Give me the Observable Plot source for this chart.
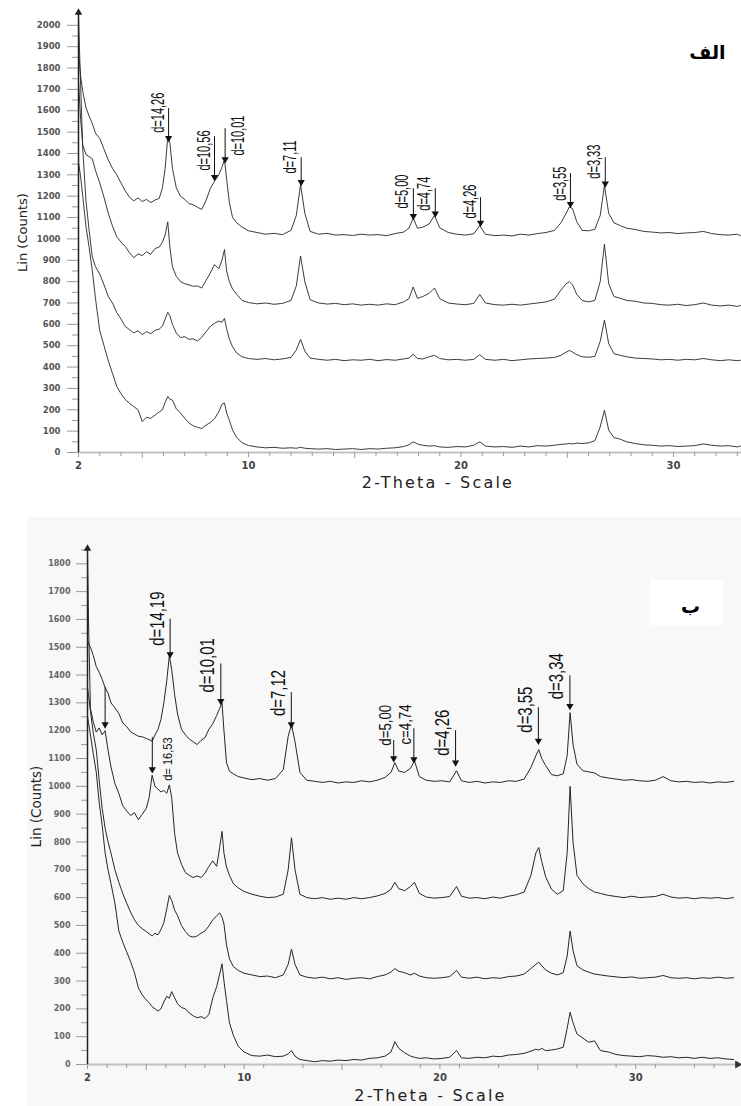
<!DOCTYPE html>
<html><head><meta charset="utf-8">
<script src="https://cdn.jsdelivr.net/npm/d3@7"></script>
<script src="https://cdn.jsdelivr.net/npm/@observablehq/plot@0.6"></script>
<style>
body{margin:0;background:#fff;width:741px;}
#top,#bot{position:relative;width:741px;overflow:hidden;}
#top{height:505px}
#bot{height:601px}
#bot .bg{position:absolute;left:27px;top:12px;right:0;bottom:0;background:#f8f8f8}
#bot .box{position:absolute;left:650px;top:75px;width:73px;height:45px;background:#fff}
svg{position:relative;display:block}
</style></head><body>
<div id="top"></div><div id="bot"><div class="bg"></div><div class="box"></div></div>
<script>
// ---------- Panel A (الف) ----------
const thetaA = [2.0,2.1,2.2,2.35,2.5,2.65,2.8,3.0,3.2,3.4,3.6,3.8,4.0,4.2,4.4,4.6,4.8,5.0,5.2,5.4,5.6,5.8,5.95,6.08,6.2,6.3,6.42,6.6,6.8,7.0,7.2,7.4,7.6,7.8,8.0,8.2,8.4,8.6,8.75,8.87,8.97,9.1,9.25,9.45,9.7,10.0,10.4,10.8,11.2,11.6,12.0,12.25,12.45,12.65,12.9,13.3,13.7,14.1,14.5,14.9,15.3,15.7,16.1,16.5,16.9,17.3,17.55,17.75,17.95,18.2,18.5,18.75,19.0,19.4,19.8,20.2,20.6,20.88,21.15,21.6,22.0,22.4,22.8,23.2,23.6,24.0,24.4,24.7,24.95,25.1,25.25,25.45,25.7,26.0,26.3,26.55,26.75,26.95,27.2,27.5,27.8,28.2,28.6,29.0,29.4,29.8,30.2,30.6,31.0,31.4,31.8,32.2,32.6,33.0,33.15];
const countsA1 = [1880,1760,1690,1615,1575,1540,1495,1470,1420,1370,1330,1300,1262,1225,1195,1178,1192,1175,1185,1170,1182,1190,1240,1330,1480,1450,1330,1240,1200,1185,1165,1160,1148,1138,1180,1235,1270,1300,1335,1370,1280,1170,1100,1075,1055,1038,1030,1022,1026,1020,1040,1110,1255,1120,1035,1022,1026,1018,1020,1016,1022,1018,1020,1015,1025,1032,1050,1098,1050,1055,1070,1110,1052,1030,1022,1018,1024,1062,1022,1015,1018,1014,1022,1018,1025,1030,1040,1075,1120,1150,1142,1080,1040,1038,1045,1110,1250,1120,1075,1062,1050,1044,1035,1032,1028,1030,1025,1028,1030,1035,1025,1020,1018,1022,1015];
const countsA2 = [1740,1560,1440,1395,1385,1375,1320,1262,1195,1120,1060,1010,985,965,935,912,930,922,940,928,955,962,985,1020,1080,960,870,825,800,790,785,778,780,770,805,840,880,860,900,950,850,800,765,740,712,702,696,700,694,698,712,780,920,800,715,700,695,698,692,696,690,694,690,696,692,705,720,775,722,730,745,770,720,700,695,692,698,740,700,692,690,694,690,695,700,705,718,760,790,800,785,740,712,705,712,800,975,790,730,722,712,708,700,698,692,690,694,688,692,700,690,686,690,684,688];
const countsA3 = [2040,1720,1420,1180,1040,915,870,835,785,730,700,655,625,590,575,560,570,552,566,556,572,578,592,625,656,640,600,560,538,542,530,532,522,540,565,590,605,615,610,628,580,530,495,465,448,440,436,440,434,438,445,480,530,475,442,436,432,436,430,434,432,436,430,435,432,438,442,460,440,438,448,455,440,434,436,432,436,458,436,432,436,430,434,438,440,442,445,455,470,478,470,458,448,446,450,520,620,510,462,455,448,442,440,438,434,436,432,436,434,440,434,430,434,430,432];
const countsA4 = [1360,1290,1200,1060,960,850,720,570,500,430,370,310,275,248,230,215,200,145,165,160,175,190,200,235,262,250,245,205,185,160,138,125,118,112,128,140,158,190,225,232,185,150,105,70,45,33,26,22,24,20,22,20,24,20,18,16,18,14,16,18,14,18,16,20,22,28,36,50,40,34,30,32,26,24,28,26,34,50,30,26,28,24,30,26,32,30,34,38,40,42,40,44,42,45,55,120,198,105,70,62,50,42,36,34,30,32,28,30,32,40,34,30,32,26,30];
const peakThetaA = [6.24,8.40,8.90,12.48,17.76,18.79,20.92,25.15,26.79];
const peakLabelA = ["d=14,26","d=10,56","d=10,01","d=7,11","d=5,00","d=4,74","d=4,26","d=3,55","d=3,33"];
const peakTopA   = [1610,1479,1516,1380,1235,1235,1193,1306,1380];
const peakTipA   = [1465,1282,1366,1259,1100,1112,1068,1156,1252];
const peakBaseA  = [1497,1320,1390,1306,1142,1132,1095,1179,1282];

// ---------- Panel B (ب) ----------
const thetaB = [2.0,2.05,2.15,2.3,2.45,2.6,2.75,2.9,3.05,3.2,3.4,3.6,3.8,4.0,4.2,4.4,4.6,4.8,5.0,5.15,5.3,5.45,5.6,5.75,5.9,6.05,6.18,6.3,6.45,6.6,6.8,7.0,7.2,7.4,7.6,7.8,8.0,8.2,8.4,8.6,8.75,8.87,8.97,9.1,9.25,9.45,9.7,10.0,10.4,10.8,11.2,11.6,12.0,12.25,12.42,12.6,12.85,13.2,13.6,14.0,14.4,14.8,15.2,15.6,16.0,16.4,16.8,17.2,17.5,17.7,17.9,18.2,18.5,18.7,18.95,19.3,19.7,20.1,20.5,20.85,21.1,21.5,21.9,22.3,22.7,23.1,23.5,23.9,24.3,24.65,24.9,25.05,25.2,25.4,25.7,26.0,26.3,26.5,26.65,26.8,27.0,27.3,27.6,27.9,28.2,28.6,29.0,29.4,29.8,30.2,30.6,31.0,31.4,31.8,32.2,32.6,33.0,33.4,33.8,34.2,34.6,35.0];
const countsB1 = [1525,1515,1500,1470,1430,1410,1385,1355,1335,1300,1282,1262,1228,1215,1196,1188,1180,1178,1172,1168,1162,1185,1205,1240,1300,1380,1470,1420,1330,1260,1205,1185,1170,1160,1150,1165,1175,1205,1225,1255,1280,1300,1200,1085,1055,1045,1035,1030,1024,1028,1022,1028,1060,1180,1222,1160,1050,1022,1018,1014,1018,1012,1016,1014,1020,1016,1022,1032,1050,1085,1055,1050,1065,1092,1035,1022,1018,1020,1016,1056,1020,1014,1018,1012,1016,1014,1020,1018,1026,1068,1110,1132,1100,1075,1042,1038,1045,1110,1265,1150,1080,1056,1052,1048,1035,1030,1026,1022,1024,1020,1018,1022,1035,1020,1016,1018,1014,1016,1012,1016,1014,1018];
const countsB2 = [1850,1600,1280,1230,1195,1210,1185,1200,1130,1070,1010,975,930,912,895,905,880,900,920,960,1040,1000,990,980,985,975,1005,960,830,760,720,690,680,672,678,672,688,712,732,712,780,838,760,710,680,650,635,622,612,605,600,602,612,700,815,700,612,600,596,600,594,598,594,600,596,600,606,615,630,655,632,625,640,655,615,602,598,600,604,640,605,598,600,596,602,598,605,610,620,680,760,780,730,675,630,612,625,760,1000,800,680,650,632,620,615,608,604,600,605,600,602,604,612,602,598,600,596,600,598,600,596,600];
const countsB3 = [1355,1330,1270,1190,1130,1020,920,850,800,760,700,655,615,580,548,520,500,488,478,470,462,472,466,485,510,560,608,590,555,535,500,478,462,458,462,472,480,498,520,535,545,530,505,430,380,352,338,328,322,316,318,312,322,360,415,360,322,314,310,314,308,312,306,310,312,308,316,322,332,345,335,330,322,328,318,312,310,312,316,338,314,310,314,308,312,310,316,318,325,345,360,368,355,340,328,322,330,390,480,410,355,340,332,325,322,318,315,312,315,310,312,314,320,312,310,312,308,312,310,314,310,312];
const countsB4 = [1250,1230,1185,1115,1050,940,860,760,700,650,580,480,440,405,370,330,275,250,232,222,208,200,192,200,225,245,238,262,240,218,205,200,185,175,168,172,165,180,240,280,325,362,300,230,150,105,65,45,32,30,34,28,30,38,50,30,18,14,10,14,12,16,14,18,16,22,24,30,45,82,58,42,30,26,22,24,20,22,26,50,24,22,26,24,30,28,34,36,40,48,55,52,58,50,52,56,62,130,188,150,110,95,80,85,50,45,36,32,30,28,32,30,26,28,24,26,22,26,22,24,20,18];
const peakThetaB = [6.22,8.81,12.41,17.64,18.67,20.80,25.03,26.64,5.31,2.90];
const peakLabelB = ["d=14,19","d=10,01","d=7,12","d=5,00","c=4,74","d=4,26","d=3,55","d=3,34","d= 16,53",""];
const peakTopB   = [1601,1440,1337,1165,1207,1200,1283,1397,1175,1355];
const peakTipB   = [1469,1301,1217,1095,1092,1080,1158,1283,1056,1217];
const peakBaseB  = [1505,1337,1253,1146,1150,1110,1193,1313,1020,0];

// ---------- shared texts / ticks ----------
const yTitle = "Lin (Counts)";
const xTitle = "2-Theta - Scale";
const tagA = "الف";
const tagB = "ب";
const xTickLabels = [2, 10, 20, 30];
const xMidTicks = [5, 15, 25];
const xMinorA = d3.range(3, 34).filter(v => !xTickLabels.includes(v) && !xMidTicks.includes(v));
const xMinorB = [3,4,6,7,8,9,11,13,17,19,21,23,27,29,31,33,34];
const yMajorA = d3.range(0, 2001, 100), yMinorA = d3.range(50, 2001, 100);
const yMajorB = d3.range(0, 1801, 100), yMinorB = d3.range(50, 1851, 100);

function panel(cfg) {
  const rows = [];
  cfg.curves.forEach((vals, k) => vals.forEach((v, i) => rows.push({t: cfg.theta[i], v, k})));
  const peaks = cfg.pTheta.map((t, i) => ({t, label: cfg.pLabel[i], top: cfg.pTop[i], tip: cfg.pTip[i], base: cfg.pBase[i]}));
  const textMarks = cfg.groups.map(g => Plot.text(peaks.filter(p => p.label && g.test(p.label)), {
    x: "t", y: "base", text: "label", rotate: -90, textAnchor: "start", lineAnchor: "middle",
    dx: g.dx, fontSize: g.size, fontFamily: "Liberation Sans, Arial, sans-serif", fontWeight: "normal", fill: "#111"
  }));
  const marks = [
    Plot.ruleY([0], {stroke: "#c2c2c2", strokeWidth: 2.2}),
    Plot.axisX({ticks: cfg.xMinor, tickSize: 4, tickFormat: () => "", stroke: "#9a9a9a", label: null}),
    Plot.axisX({ticks: xMidTicks, tickSize: 6, tickFormat: () => "", stroke: "#9a9a9a", label: null}),
    Plot.axisX({ticks: xTickLabels, tickSize: 5, tickPadding: 4, tickFormat: d => String(d), fontSize: cfg.xFont, fontWeight: "bold", fill: "#444", stroke: "#9a9a9a", label: null}),
    Plot.axisY({ticks: cfg.yMinor, tickSize: 6, tickFormat: () => "", stroke: "#9a9a9a", label: null}),
    Plot.axisY({ticks: cfg.yMajor, tickSize: 11, tickPadding: cfg.yPad, tickFormat: d => String(d), fontSize: cfg.yFont, fontWeight: "bold", fill: cfg.yFill, stroke: "#9a9a9a", label: null}),
    Plot.ruleX([cfg.xDomain[0]], {y1: 0, y2: cfg.yDomain[1], stroke: "#222", strokeWidth: 1.5}),
    Plot.dot([{x: cfg.xDomain[0], y: cfg.yDomain[1]}], {x: "x", y: "y", symbol: "triangle", r: 2.8, fill: "#222", stroke: null}),
    Plot.line(rows, {x: "t", y: "v", z: "k", stroke: "#262626", strokeWidth: cfg.sw}),
    Plot.ruleX(peaks, {x: "t", y1: "top", y2: "tip", stroke: "#111", strokeWidth: 1}),
    Plot.dot(peaks, {x: "t", y: "tip", symbol: "triangle", rotate: 180, r: 2.7, fill: "#111", stroke: null, dy: -1.5}),
    ...textMarks,
    Plot.text([cfg.yTitle], {frameAnchor: "left", rotate: -90, dx: cfg.yTitleDx, fontSize: cfg.yTitleSize, fontWeight: "normal", fontFamily: "DejaVu Sans", fill: "#222", lineAnchor: "middle", textAnchor: "middle"}),
    Plot.text([cfg.xTitle], {frameAnchor: "bottom", dx: cfg.xTitleDx, dy: cfg.xTitleDy, fontSize: 16, fontWeight: "normal", fontFamily: "DejaVu Sans", fill: "#222", lineAnchor: "middle", textAnchor: "middle"}),
    Plot.text([cfg.tag], {frameAnchor: "top-right", dx: cfg.tagDx, dy: cfg.tagDy, fontSize: 19, fontWeight: "bold", fontFamily: "DejaVu Sans", fill: "#000", lineAnchor: "middle", textAnchor: "middle"})
  ];
  if (cfg.xArrow) marks.push(Plot.dot([{x: cfg.xDomain[1], y: 0}], {x: "x", y: "y", symbol: "triangle", rotate: 90, r: 3, fill: "#333", stroke: null}));
  return Plot.plot({
    width: 741, height: cfg.height,
    marginLeft: cfg.ml, marginRight: cfg.mr, marginTop: cfg.mt, marginBottom: cfg.mb,
    x: {domain: cfg.xDomain, axis: null},
    y: {domain: cfg.yDomain, axis: null},
    style: {background: "transparent", overflow: "visible", fontFamily: "DejaVu Sans"},
    marks
  });
}

// condense the peak labels (after the svg is in the page so lengths can be measured)
function condense(svg, cfg) {
  d3.select(svg).selectAll("text").each(function () {
    const t = this.textContent;
    if (t === xTitle) { this.setAttribute("letter-spacing", "2.2px"); return; }
    if (!cfg.pLabel.includes(t) || !t) return;
    const g = cfg.groups.find(g => g.test(t));
    const len = this.getComputedTextLength();
    this.setAttribute("textLength", (len * g.sx).toFixed(1));
    this.setAttribute("lengthAdjust", "spacingAndGlyphs");
  });
}

const cfgA = {
  theta: thetaA, curves: [countsA1, countsA2, countsA3, countsA4],
  pTheta: peakThetaA, pLabel: peakLabelA, pTop: peakTopA, pTip: peakTipA, pBase: peakBaseA,
  groups: [
    {test: l => l !== "d=10,01", dx: -11, size: 19, sx: 0.58},
    {test: l => l === "d=10,01", dx: 13, size: 19, sx: 0.58}
  ],
  xDomain: [2, 33.2], yDomain: [0, 2060],
  height: 505, ml: 78, mr: 0, mt: 12, mb: 53,
  xMinor: xMinorA, yMajor: yMajorA, yMinor: yMinorA,
  xFont: 10, yFont: 8.5, yPad: 7, yFill: "#555", sw: 0.9,
  yTitle, yTitleDx: -56, yTitleSize: 13,
  xTitle, xTitleDx: 28, xTitleDy: 30,
  tag: tagA, tagDx: -34, tagDy: 40, xArrow: false
};
const svgA = panel(cfgA);
document.getElementById("top").append(svgA);
condense(svgA, cfgA);

const cfgB = {
  theta: thetaB, curves: [countsB1, countsB2, countsB3, countsB4],
  pTheta: peakThetaB, pLabel: peakLabelB, pTop: peakTopB, pTip: peakTipB, pBase: peakBaseB,
  groups: [
    {test: l => !["d=5,00", "c=4,74", "d= 16,53"].includes(l), dx: -13.3, size: 21, sx: 0.71},
    {test: l => ["d=5,00", "c=4,74"].includes(l), dx: -8, size: 17, sx: 0.78},
    {test: l => l === "d= 16,53", dx: 16, size: 13, sx: 0.85}
  ],
  xDomain: [2, 35.2], yDomain: [0, 1855],
  height: 601, ml: 87, mr: 4, mt: 43, mb: 42,
  xMinor: xMinorB, yMajor: yMajorB, yMinor: yMinorB,
  xFont: 10, yFont: 8, yPad: 6, yFill: "#666", sw: 1,
  yTitle, yTitleDx: -51, yTitleSize: 13.5,
  xTitle, xTitleDx: 18, xTitleDy: 31,
  tag: tagB, tagDx: -47, tagDy: 58, xArrow: true
};
const svgB = panel(cfgB);
document.getElementById("bot").append(svgB);
condense(svgB, cfgB);
</script>
</body></html>
